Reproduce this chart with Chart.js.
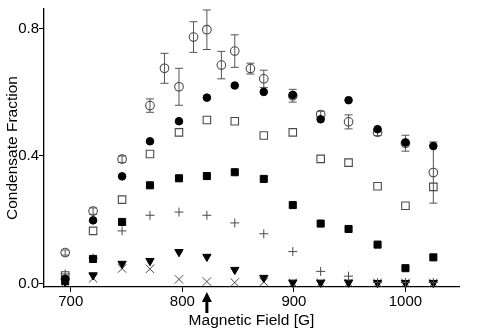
<!DOCTYPE html>
<html>
<head>
<meta charset="utf-8">
<script src="https://cdn.jsdelivr.net/npm/chart.js@4.4.1/dist/chart.umd.min.js"></script>
<style>
  html, body { margin: 0; padding: 0; background: #fff; }
  #wrap { width: 485px; height: 331px; }
</style>
</head>
<body>
<div id="wrap"><canvas id="chart" width="485" height="331"></canvas></div>
<script>
// magnetic field values (G)
const fields = [695, 720, 746, 771, 797, 822, 847, 873, 899, 924, 949, 975, 1000, 1025];
const circleFields = [695, 720, 746, 771, 784, 797, 810, 822, 835, 847, 861, 873, 899, 924, 949, 975, 1000, 1025];

// condensate fractions
const openCircle = [0.097, 0.227, 0.39, 0.558, 0.675, 0.617, 0.773, 0.796, 0.685, 0.729, 0.674, 0.642, 0.589, 0.53, 0.507, 0.474, 0.44, 0.348];
const openCircleErr = [0.008, 0.01, 0.01, 0.021, 0.047, 0.058, 0.048, 0.062, 0.043, 0.051, 0.017, 0.027, 0.02, 0.01, 0.022, 0.01, 0.025, 0.096];
const filledCircle = [0.015, 0.198, 0.336, 0.446, 0.509, 0.583, 0.621, 0.601, 0.591, 0.515, 0.575, 0.484, 0.442, 0.431];
const openSquare = [0.025, 0.165, 0.263, 0.406, 0.474, 0.513, 0.509, 0.464, 0.474, 0.391, 0.379, 0.305, 0.244, 0.303];
const filledSquare = [0.008, 0.077, 0.193, 0.308, 0.33, 0.337, 0.349, 0.328, 0.246, 0.188, 0.171, 0.122, 0.048, 0.082];
const plusSeries = [0.03, 0.08, 0.165, 0.214, 0.224, 0.214, 0.19, 0.156, 0.1, 0.038, 0.023, 0.003, 0.003, 0.003];
const triangleSeries = [0.005, 0.026, 0.062, 0.071, 0.099, 0.084, 0.043, 0.018, 0.003, 0.003, 0.003, 0.002, 0.002, 0.002];
const crossSeries = [0.003, 0.016, 0.047, 0.046, 0.013, 0.006, 0.003, 0.005, 0.002, 0.002, 0.002, 0.002, 0.002, 0.002];

const xTicks = [700, 800, 900, 1000];
const yTicks = [0.0, 0.4, 0.8];
const markedField = 822;

const FONT = '"Liberation Sans", Arial, Helvetica, sans-serif';
const GREY = '#4a4a4a';

const pts = (xs, ys) => xs.map((x, i) => ({ x: x, y: ys[i] }));

// error bars for the open circles, drawn under the markers
const errorBars = {
    id: 'errorBars',
    beforeDatasetsDraw(chart) {
        const { ctx, scales: { x, y } } = chart;
        ctx.save();
        ctx.strokeStyle = '#555';
        ctx.lineWidth = 1;
        circleFields.forEach((f, i) => {
            const px = x.getPixelForValue(f);
            const top = y.getPixelForValue(openCircle[i] + openCircleErr[i]);
            const bot = y.getPixelForValue(openCircle[i] - openCircleErr[i]);
            ctx.beginPath();
            ctx.moveTo(px, top); ctx.lineTo(px, bot);
            ctx.moveTo(px - 4, top); ctx.lineTo(px + 4, top);
            ctx.moveTo(px - 4, bot); ctx.lineTo(px + 4, bot);
            ctx.stroke();
        });
        ctx.restore();
    }
};

// arrow under the x axis
const fieldArrow = {
    id: 'fieldArrow',
    afterDraw(chart) {
        const { ctx, chartArea, scales: { x } } = chart;
        const px = x.getPixelForValue(markedField);
        const top = chartArea.bottom + 5;
        ctx.save();
        ctx.fillStyle = '#000';
        ctx.beginPath();
        ctx.moveTo(px, top);
        ctx.lineTo(px + 5, top + 10);
        ctx.lineTo(px + 1.5, top + 10);
        ctx.lineTo(px + 1.5, top + 21);
        ctx.lineTo(px - 1.5, top + 21);
        ctx.lineTo(px - 1.5, top + 10);
        ctx.lineTo(px - 5, top + 10);
        ctx.closePath();
        ctx.fill();
        ctx.restore();
    }
};

new Chart(document.getElementById('chart'), {
    type: 'scatter',
    data: {
        datasets: [
            { data: pts(fields, filledCircle), pointStyle: 'circle', pointRadius: 3.8,
              backgroundColor: '#000', borderColor: '#000', borderWidth: 1 },
            { data: pts(circleFields, openCircle), pointStyle: 'circle', pointRadius: 4.3,
              backgroundColor: 'rgba(0,0,0,0)', borderColor: GREY, borderWidth: 1.1 },
            { data: pts(fields, openSquare), pointStyle: 'rect', pointRadius: 5.3,
              backgroundColor: 'rgba(0,0,0,0)', borderColor: GREY, borderWidth: 1.1 },
            { data: pts(fields, filledSquare), pointStyle: 'rect', pointRadius: 5,
              backgroundColor: '#000', borderColor: '#000', borderWidth: 1 },
            { data: pts(fields, plusSeries), pointStyle: 'cross', pointRadius: 4.5,
              backgroundColor: GREY, borderColor: GREY, borderWidth: 1 },
            { data: pts(fields, triangleSeries), pointStyle: 'triangle', pointRotation: 180, pointRadius: 4.8,
              backgroundColor: '#000', borderColor: '#000', borderWidth: 1 },
            { data: pts(fields, crossSeries), pointStyle: 'crossRot', pointRadius: 6,
              backgroundColor: GREY, borderColor: GREY, borderWidth: 1 }
        ]
    },
    options: {
        responsive: false,
        animation: false,
        clip: false,
        layout: { padding: { top: 0, right: 26, left: 0, bottom: 0 } },
        plugins: { legend: { display: false }, tooltip: { enabled: false } },
        elements: { point: { hoverRadius: 0 } },
        scales: {
            x: {
                type: 'linear',
                min: 676,
                max: 1048,
                afterFit: s => { s.height = 44; },
                afterBuildTicks: s => { s.ticks = xTicks.map(v => ({ value: v })); },
                border: { display: true, color: '#000', width: 1.3 },
                grid: { drawOnChartArea: false, drawTicks: true, tickLength: 5, color: '#000', lineWidth: 1 },
                ticks: { color: '#000', padding: 1, maxRotation: 0, font: { family: FONT, size: 15 },
                         callback: v => String(v) },
                title: { display: true, text: 'Magnetic Field [G]', color: '#000',
                         padding: { top: 0, bottom: 1 }, font: { family: FONT, size: 15.5 } }
            },
            y: {
                type: 'linear',
                min: -0.011,
                max: 0.861,
                afterFit: s => { s.width = 44; },
                afterBuildTicks: s => { s.ticks = yTicks.map(v => ({ value: v })); },
                border: { display: true, color: '#000', width: 1.3 },
                grid: { drawOnChartArea: false, drawTicks: true, tickLength: 5, color: '#000', lineWidth: 1 },
                ticks: { color: '#000', padding: 0, font: { family: FONT, size: 15 },
                         callback: v => v.toFixed(1) },
                title: { display: true, text: 'Condensate Fraction', color: '#000',
                         padding: { top: 3, bottom: 0 }, font: { family: FONT, size: 15.5 } }
            }
        }
    },
    plugins: [errorBars, fieldArrow]
});
</script>
</body>
</html>
